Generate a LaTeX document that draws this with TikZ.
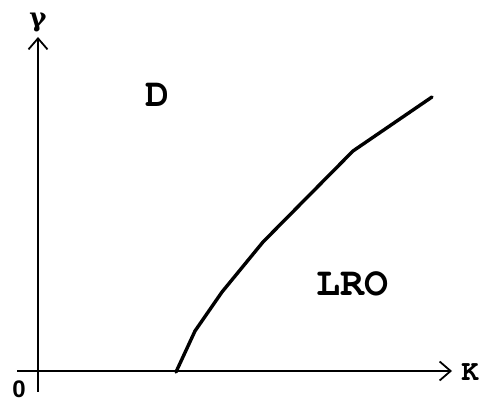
\documentclass[tikz,border=0pt]{standalone}
\usepackage[T1]{fontenc}
\usepackage{fontspec}
\setsansfont{Liberation Sans}
\newfontfamily\gfont{DejaVu Serif}
\newcommand\cour{\fontencoding{T1}\fontfamily{pcr}\fontseries{b}\fontshape{n}\selectfont}
\usetikzlibrary{arrows.meta}
\begin{document}
\begin{tikzpicture}[x=1pt,y=1pt,
  axis/.style={line width=1.8pt,-{Straight Barb[length=11pt,width=19pt,line width=1.8pt]}},
  lab/.style={font=\fontsize{40}{40}\cour,inner sep=0pt},
  curve/.style={line width=3.4pt,line join=round,line cap=round}]
\useasboundingbox (0,0) rectangle (484,401);
\coordinate (ybot) at (38,9);
\coordinate (ytop) at (38,364);
\coordinate (xl) at (17,30);
\coordinate (xr) at (452,30);
\draw[axis] (ybot) -- (ytop);
\draw[axis] (xl) -- (xr);
\node[font=\fontsize{26}{26}\gfont\bfseries,inner sep=0pt] (g) at (38,379) {γ};
\node[font=\fontsize{29}{29}\cour,inner sep=0pt] (k) at (470,29) {K};
\node[font=\fontsize{24}{24}\sffamily\bfseries,inner sep=0pt] (o) at (19,12) {0};
\node[lab] (d) at (157,306) {D};
\node[lab] (lro) at (352,117) {LRO};
\draw[curve] (176,29) -- (195,70) -- (222,109) -- (263,159) -- (353,250) -- (432,304);
\end{tikzpicture}
\end{document}
